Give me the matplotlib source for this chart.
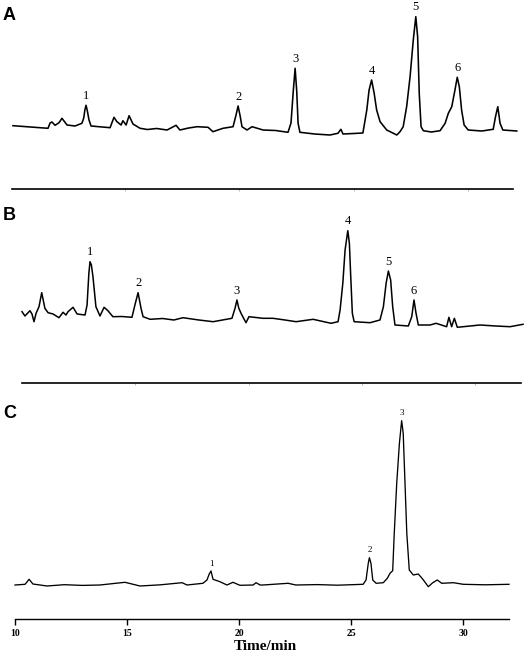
import numpy as np
import matplotlib.pyplot as plt

# chromatogram A (time in min, detector signal in arbitrary units)
a_time = [10.13, 11.66, 11.75, 11.83, 11.97, 12.14, 12.27, 12.49, 12.84, 13.14, 13.22, 13.27, 13.32,
          13.37, 13.45, 13.54, 14.37, 14.54, 14.67, 14.85, 14.93, 15.07, 15.20, 15.37, 15.68, 16.00,
          16.40, 16.86, 17.25, 17.42, 17.80, 18.17, 18.65, 18.86, 19.30, 19.74, 19.86, 19.96, 20.05,
          20.13, 20.35, 20.57, 21.05, 21.60, 22.14, 22.27, 22.37, 22.45, 22.52, 22.58, 22.66, 23.30,
          23.97, 24.32, 24.45, 24.54, 25.00, 25.41, 25.58, 25.68, 25.79, 25.90, 26.01, 26.16, 26.45,
          26.89, 27.03, 27.17, 27.32, 27.47, 27.61, 27.72, 27.80, 27.87, 27.95, 28.05, 28.40, 28.78,
          29.00, 29.14, 29.29, 29.43, 29.53, 29.62, 29.72, 29.83, 30.01, 30.60, 31.10, 31.20, 31.30,
          31.40, 31.52, 32.13]
a_signal = [60.3, 57.7, 63, 64, 60.7, 63.3, 67.7, 61, 60, 62.7, 68, 76, 80.7,
            76, 66, 60, 58.3, 68.7, 64.3, 61, 65.3, 61, 70.3, 62, 57.7, 56.5,
            57.5, 56, 60.7, 56, 58, 59.3, 58.7, 54.3, 57.7, 59.3, 70, 80, 70,
            59.3, 56, 59.3, 56, 55.5, 53.7, 63, 95, 117.7, 95, 62.7, 53.7, 52,
            51, 52.7, 56.7, 52, 52.5, 53, 76, 96, 106, 93, 76, 64.3, 56,
            51, 54.3, 59.3, 79.3, 109.3, 146, 169.3, 149.3, 92.7, 59.3, 55.3, 54, 55.3,
            62.7, 72.7, 79.3, 96, 108.7, 99.3, 76, 61, 56, 55, 56.7, 69.3, 79.3,
            62.7, 56, 55]
a_peaks = [13.32, 19.96, 22.45, 25.79, 27.72, 29.53]

# chromatogram B
b_time = [10.00, 10.13, 10.35, 10.44, 10.53, 10.62, 10.75, 10.87, 11.01, 11.15, 11.37, 11.63, 11.81,
          11.94, 12.03, 12.25, 12.43, 12.78, 12.87, 12.95, 13.00, 13.06, 13.13, 13.26, 13.44, 13.62,
          13.79, 14.01, 14.40, 14.85, 14.98, 15.12, 15.25, 15.34, 15.65, 16.20, 16.70, 17.10, 17.80,
          18.43, 19.26, 19.40, 19.48, 19.56, 19.66, 19.88, 20.01, 20.63, 21.07, 21.60, 22.09, 22.84,
          23.63, 23.94, 24.03, 24.15, 24.25, 24.37, 24.44, 24.50, 24.57, 24.65, 25.35, 25.79, 25.94,
          26.06, 26.16, 26.26, 26.35, 26.45, 27.04, 27.19, 27.29, 27.38, 27.48, 28.00, 28.26, 28.73,
          28.83, 28.95, 29.07, 29.20, 30.20, 30.90, 31.53, 32.10]
b_signal = [71.3, 67, 72.3, 69, 61.3, 69.7, 76.3, 90.3, 74.7, 70.3, 69, 65.3, 70.7,
            68, 71.3, 75.7, 69, 68, 78, 110, 121.3, 118, 106.3, 76.3, 67, 75.7,
            72.3, 66.3, 66.5, 65.7, 78, 90.3, 74.7, 66.3, 63.7, 64.5, 63, 65.3, 63,
            61.3, 64.7, 75, 83, 75, 69.7, 60.3, 66.3, 64.7, 64.7, 63, 61.3, 63.7,
            59.7, 61.3, 73, 99.7, 133, 152.3, 139.7, 106.3, 69.7, 61.3, 60.3, 63, 76.3,
            99.7, 112, 103, 76.3, 58, 57, 66.3, 83, 69.7, 58, 58, 59.7, 56.3,
            65.7, 56.3, 64.7, 55.7, 58, 57, 56.3, 58.7]
b_peaks = [13.00, 15.12, 19.48, 24.37, 26.16, 27.29]

# chromatogram C
c_time = [10.00, 10.45, 10.63, 10.80, 11.43, 12.20, 13.00, 13.79, 14.91, 15.58, 16.50, 17.46, 17.68,
          18.39, 18.57, 18.67, 18.75, 18.84, 19.15, 19.46, 19.73, 20.04, 20.63, 20.76, 20.94, 21.07,
          22.19, 22.54, 23.50, 24.40, 25.54, 25.67, 25.77, 25.82, 25.89, 25.97, 26.12, 26.44, 26.62,
          26.74, 26.86, 26.93, 27.04, 27.16, 27.26, 27.33, 27.41, 27.49, 27.60, 27.78, 28.00, 28.11,
          28.23, 28.45, 28.65, 28.85, 29.05, 29.57, 30.01, 31.00, 32.05]
c_signal = [34, 34.7, 39.7, 35, 33, 34.3, 33.6, 34, 36.7, 33, 34.2, 36.3, 34,
            35.7, 39, 45, 48, 39.7, 37.3, 34, 36.7, 33.7, 34, 36.3, 34, 34,
            35.7, 34, 34.4, 33.8, 34.7, 39, 55.7, 61.3, 55.7, 39, 35.7, 36.3, 40.7,
            45.7, 48.3, 85.7, 135.7, 175.7, 198.3, 185.7, 135.7, 85.7, 49, 44, 45, 42.3,
            39, 32.3, 36.3, 39, 35.7, 36.3, 34.7, 34.2, 34.7]
c_peaks = [18.75, 25.82, 27.26]

tick_values = [10, 15, 20, 25, 30]

W, H = 526, 658
fig = plt.figure(figsize=(W / 100, H / 100), dpi=100)


def panel(left, right, top, bottom, xlim, ylim, spine, t, s, peaks, lab_size, lw):
    ax = fig.add_axes([left / W, 1 - bottom / H, (right - left) / W, (bottom - top) / H])
    ax.plot(t, s, color='black', lw=lw, clip_on=False, solid_joinstyle='round')
    ax.set_xlim(xlim)
    ax.set_ylim(ylim)
    for side in ['top', 'right', 'left']:
        ax.spines[side].set_visible(False)
    ax.spines['bottom'].set_bounds(*spine)
    ax.set_yticks([])
    t = np.array(t)
    s = np.array(s)
    for i, pt in enumerate(peaks):
        near = np.abs(t - pt) < 0.15
        k = np.argmax(s[near])
        ax.annotate(str(i + 1), (t[near][k], s[near][k]), xytext=(0, 2.5),
                    textcoords='offset points', ha='center', va='bottom',
                    fontsize=lab_size, family='Liberation Serif')
    return ax


ax_a = panel(10, 520, 0, 189, (10, 32.27), (-3, 186), (10.09, 31.97),
             a_time, a_signal, a_peaks, 9, 1.15)
ax_b = panel(22, 526, 200, 383, (10, 32.23), (0, 183), (10.0, 32.01),
             b_time, b_signal, b_peaks, 9, 1.1)
ax_c = panel(15, 515, 395, 619, (10, 32.32), (0, 224), (10.0, 32.05),
             c_time, c_signal, c_peaks, 6.5, 0.95)

for ax in [ax_a, ax_b]:
    ax.spines['bottom'].set_linewidth(1.2)
    ax.set_xticks(tick_values[1:])
    ax.tick_params(axis='x', length=1.5, width=0.6, color='#aaaaaa', labelbottom=False)

ax_c.spines['bottom'].set_linewidth(1.0)
ax_c.set_xticks(tick_values)
ax_c.tick_params(axis='x', length=4, width=1, pad=3)
for lab in ax_c.get_xticklabels():
    lab.set_family('Liberation Serif')
    lab.set_fontweight('bold')
    lab.set_fontsize(7)
ax_c.set_xlabel('Time/min', family='Liberation Serif', fontweight='bold', fontsize=11, labelpad=2)

for letter, y in [('A', 7), ('B', 207), ('C', 405)]:
    fig.text(3 / W, 1 - y / H, letter, ha='left', va='top', fontsize=13,
             fontweight='bold', family='Liberation Sans')

fig.savefig('out.png', dpi=100)
